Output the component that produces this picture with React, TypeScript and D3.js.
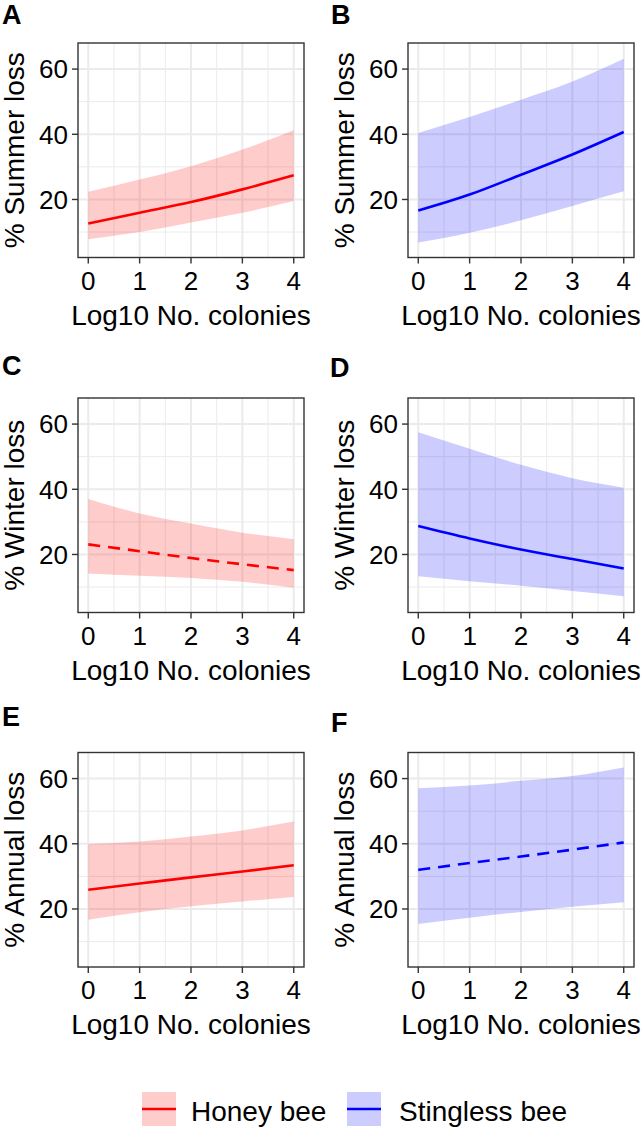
import React from 'react';
import * as d3 from 'd3';

// x positions of the fitted values (log10 number of colonies)
const logColonies = [0, 1, 2, 3, 4];
const xTicks = [0, 1, 2, 3, 4];
const xMinor = [0.5, 1.5, 2.5, 3.5];
const yTicks = [20, 40, 60];
const yMinor = [10, 30, 50];

// A: honey bee, summer
const honeySummerFit = [12.6, 15.9, 19.2, 23.1, 27.4];
const honeySummerLow = [7.8, 10.0, 12.9, 15.9, 19.5];
const honeySummerHigh = [22.4, 26.1, 30.2, 35.3, 41.2];
// B: stingless bee, summer
const stinglessSummerFit = [16.6, 21.5, 27.6, 33.8, 40.7];
const stinglessSummerLow = [6.8, 9.8, 13.6, 18.0, 22.5];
const stinglessSummerHigh = [40.4, 45.3, 50.6, 56.2, 63.2];
// C: honey bee, winter
const honeyWinterFit = [23.1, 21.0, 18.9, 17.0, 15.2];
const honeyWinterLow = [14.2, 13.5, 12.8, 11.6, 9.8];
const honeyWinterHigh = [37.0, 32.6, 29.5, 26.7, 24.7];
// D: stingless bee, winter
const stinglessWinterFit = [28.7, 24.9, 21.5, 18.6, 15.7];
const stinglessWinterLow = [13.3, 11.8, 10.4, 8.8, 7.2];
const stinglessWinterHigh = [57.5, 52.4, 47.5, 43.4, 40.5];
// E: honey bee, annual
const honeyAnnualFit = [25.9, 27.8, 29.7, 31.5, 33.4];
const honeyAnnualLow = [16.7, 19.0, 20.8, 22.3, 23.7];
const honeyAnnualHigh = [39.9, 40.7, 42.2, 44.1, 46.8];
// F: stingless bee, annual
const stinglessAnnualFit = [32.0, 34.1, 36.1, 38.2, 40.4];
const stinglessAnnualLow = [15.4, 17.3, 19.1, 20.7, 22.1];
const stinglessAnnualHigh = [57.0, 57.9, 59.3, 60.8, 63.4];

const species = ['Honey bee', 'Stingless bee'];
const speciesColor: Record<string, string> = {
  'Honey bee': '#FF0000',
  'Stingless bee': '#0000FF',
};

const FONT = "'Liberation Sans', Arial, Helvetica, sans-serif";
const GRID = '#EBEBEB';
const BORDER = '#333333';

const colLeft = [78, 408];
const rowTop = [43, 398, 752.5];
const panelW = 226;
const panelH = 214.5;

const panels = [
  {tag: 'A', ylab: '% Summer loss', sp: 'Honey bee', fit: honeySummerFit, lo: honeySummerLow, hi: honeySummerHigh, dashed: false, row: 0, col: 0, tagY: 24, tagX: 2},
  {tag: 'B', ylab: '% Summer loss', sp: 'Stingless bee', fit: stinglessSummerFit, lo: stinglessSummerLow, hi: stinglessSummerHigh, dashed: false, row: 0, col: 1, tagY: 24, tagX: 331},
  {tag: 'C', ylab: '% Winter loss', sp: 'Honey bee', fit: honeyWinterFit, lo: honeyWinterLow, hi: honeyWinterHigh, dashed: true, row: 1, col: 0, tagY: 375, tagX: 2},
  {tag: 'D', ylab: '% Winter loss', sp: 'Stingless bee', fit: stinglessWinterFit, lo: stinglessWinterLow, hi: stinglessWinterHigh, dashed: false, row: 1, col: 1, tagY: 377, tagX: 330},
  {tag: 'E', ylab: '% Annual loss', sp: 'Honey bee', fit: honeyAnnualFit, lo: honeyAnnualLow, hi: honeyAnnualHigh, dashed: false, row: 2, col: 0, tagY: 726, tagX: 2},
  {tag: 'F', ylab: '% Annual loss', sp: 'Stingless bee', fit: stinglessAnnualFit, lo: stinglessAnnualLow, hi: stinglessAnnualHigh, dashed: true, row: 2, col: 1, tagY: 732, tagX: 331},
];

const Panel: React.FC<{p: (typeof panels)[number]}> = ({p}) => {
  const left = colLeft[p.col];
  const top = rowTop[p.row];
  const x = d3.scaleLinear().domain([-0.2, 4.2]).range([left, left + panelW]);
  const y = d3.scaleLinear().domain([2.2, 68]).range([top + panelH, top]);
  const color = speciesColor[p.sp];

  const area = d3
    .area<number>()
    .x((_, i) => x(logColonies[i]))
    .y0((_, i) => y(p.lo[i]))
    .y1((_, i) => y(p.hi[i]))
    .curve(d3.curveMonotoneX);
  const line = d3
    .line<number>()
    .x((_, i) => x(logColonies[i]))
    .y((d) => y(d))
    .curve(d3.curveMonotoneX);

  const bottom = top + panelH;
  return (
    <g>
      <rect x={left} y={top} width={panelW} height={panelH} fill="white" />
      {xMinor.map((v) => (
        <line key={'xm' + v} x1={x(v)} x2={x(v)} y1={top} y2={bottom} stroke={GRID} strokeWidth={1} />
      ))}
      {yMinor.map((v) => (
        <line key={'ym' + v} x1={left} x2={left + panelW} y1={y(v)} y2={y(v)} stroke={GRID} strokeWidth={1} />
      ))}
      {xTicks.map((v) => (
        <line key={'xg' + v} x1={x(v)} x2={x(v)} y1={top} y2={bottom} stroke={GRID} strokeWidth={2} />
      ))}
      {yTicks.map((v) => (
        <line key={'yg' + v} x1={left} x2={left + panelW} y1={y(v)} y2={y(v)} stroke={GRID} strokeWidth={2} />
      ))}
      <path d={area(p.fit) || ''} fill={color} fillOpacity={0.2} />
      <path
        d={line(p.fit) || ''}
        fill="none"
        stroke={color}
        strokeWidth={2.6}
        strokeDasharray={p.dashed ? '12,8' : undefined}
      />
      <rect x={left} y={top} width={panelW} height={panelH} fill="none" stroke={BORDER} strokeWidth={1.4} />
      {yTicks.map((v) => (
        <g key={'yt' + v}>
          <line x1={left - 6} x2={left} y1={y(v)} y2={y(v)} stroke={BORDER} strokeWidth={1.4} />
          <text x={left - 10} y={y(v)} dy="0.36em" textAnchor="end" fontSize={26} fill="black">
            {v}
          </text>
        </g>
      ))}
      {xTicks.map((v) => (
        <g key={'xt' + v}>
          <line x1={x(v)} x2={x(v)} y1={bottom} y2={bottom + 6} stroke={BORDER} strokeWidth={1.4} />
          <text x={x(v)} y={bottom + 32} textAnchor="middle" fontSize={26} fill="black">
            {v}
          </text>
        </g>
      ))}
      <text x={left + panelW / 2} y={bottom + 67} textAnchor="middle" fontSize={28} fill="black">
        Log10 No. colonies
      </text>
      <text
        transform={`translate(${left - 54},${top + panelH / 2}) rotate(-90)`}
        textAnchor="middle"
        fontSize={28}
        fill="black"
      >
        {p.ylab}
      </text>
      <text x={p.tagX} y={p.tagY} fontSize={27} fontWeight="bold" fill="black">
        {p.tag}
      </text>
    </g>
  );
};

const legendKeyX = [142, 347];
const legendTextX = [191, 399];

export default function App() {
  return (
    <svg
      width={642}
      height={1127}
      style={{position: 'absolute', left: 0, top: 0, fontFamily: FONT}}
    >
      <rect width={642} height={1127} fill="white" />
      {panels.map((p) => (
        <Panel key={p.tag} p={p} />
      ))}
      {species.map((s, i) => (
        <g key={s}>
          <rect x={legendKeyX[i]} y={1092} width={34} height={34} fill={speciesColor[s]} fillOpacity={0.2} />
          <line x1={legendKeyX[i]} x2={legendKeyX[i] + 34} y1={1109} y2={1109} stroke={speciesColor[s]} strokeWidth={2.6} />
          <text x={legendTextX[i]} y={1121} fontSize={28} fill="black">
            {s}
          </text>
        </g>
      ))}
    </svg>
  );
}
